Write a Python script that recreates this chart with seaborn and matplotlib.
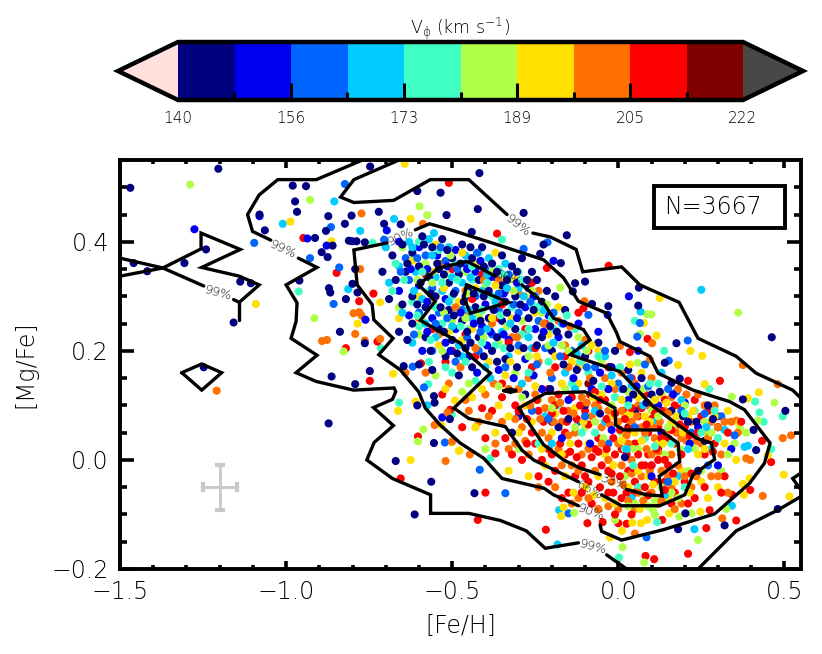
import numpy as np
import pandas as pd
import matplotlib
matplotlib.use('Agg')
import matplotlib.pyplot as plt
import seaborn as sns
from matplotlib.cm import ScalarMappable
from matplotlib.colors import BoundaryNorm, ListedColormap
from matplotlib.patches import Rectangle

# [Fe/H], [Mg/Fe] pairs, one list per velocity bin
navy = [(-1.469,.499),(-1.204,.534),(-1.241,.386),(-1.306,.361),(-1.459,.361),(-1.418,.346),(-1.138,.327),(-1.106,.324),
 (-1.158,.252),(-.98,.503),(-.94,.502),(-.747,.538),(-.605,.493),(-.535,.49),(-.973,.474),(-.967,.455),(-1.08,.45),
 (-1.064,.421),(-.873,.447),(-.803,.448),(-.823,.433),(-.721,.455),(-.88,.42),(-.705,.433),(-.655,.432),(-.517,.449),
 (-.913,.407),(-.86,.393),(-.893,.381),(-.875,.372),(-.811,.402),(-.801,.401),(-.788,.401),(-.763,.399),(-.96,.329),
 (-.792,.35),(-.871,.315),(-.867,.307),(-.8,.323),(-.785,.307),(-.82,.295),(-.838,.235),(-.763,.214),(-.863,.153),
 (-.792,.139),(-.748,.163),(-1.248,.17),(-.872,.067),(-.605,.1),(-.555,.031),(-.507,.075),(-.67,-.002),(-.563,-.04),
 (-.613,-.1),(-.555,.117),(-.553,.105),(-.646,.172),(-.418,.526),(-.423,.46),(-.285,.453),(-.441,.418),(-.155,.412),
 (-.225,.395),(-.235,.378),(-.173,.361),(-.13,.324),(-.1,.327),(-.137,.309),(-.079,.286),(-.03,.282),(.062,.316),
 (.06,.283),(.462,.225),(.175,.214),(.14,.178),(.185,.149),(.16,.141),(.375,.111),(.503,.09),(.407,.055),(.415,.018),
 (.48,-.09),(.32,-.12),(.202,-.098),(.18,-.127),(-.433,-.061),
 (-.68,.375),(-.65,.395),(-.62,.38),(-.59,.41),(-.56,.39),(-.53,.405),(-.5,.37),(-.47,.395),(-.44,.37),(-.41,.39),
 (-.38,.36),(-.35,.375),(-.32,.355),(-.29,.37),(-.26,.345),(-.71,.345),(-.67,.33),(-.64,.345),(-.6,.355),(-.57,.335),
 (-.54,.35),(-.51,.325),(-.48,.34),(-.45,.315),(-.42,.33),(-.39,.31),(-.35,.32),(-.31,.3),(-.27,.315),(-.23,.29),
 (-.19,.3),(-.16,.275),(-.69,.295),(-.65,.285),(-.62,.3),(-.58,.28),(-.55,.3),(-.51,.275),(-.47,.255),(-.43,.28),
 (-.39,.26),(-.35,.255),(-.31,.24),(-.27,.26),(-.23,.225),(-.66,.235),(-.62,.25),(-.58,.225),(-.54,.24),(-.5,.22),
 (-.46,.205),(-.42,.225),(-.38,.2),(-.34,.185),(-.6,.175),(-.56,.165),(-.52,.19),(-.48,.155),(-.44,.17),(-.2,.2),
 (-.15,.23),(-.1,.19),(-.06,.215),(-.01,.2),(.03,.165),(.07,.15),(.1,.12),(.16,.09),(.21,.07),(.26,.035),(.3,.06),
 (-.28,.12),(-.1,.1),(-.18,.06),(.05,.09),(-.32,.05),(.27,.1),
 (-.635,.36),(-.585,.395),(-.545,.36),(-.515,.385),(-.475,.36),(-.445,.39),(-.405,.355),(-.365,.345),(-.335,.33),
 (-.305,.345),(-.275,.33),(-.245,.33),(-.215,.31),(-.595,.325),(-.565,.305),(-.525,.34),(-.495,.305),(-.465,.29),
 (-.435,.305),(-.405,.3),(-.375,.275),(-.335,.27),(-.295,.285),(-.255,.275),(-.205,.245),(-.605,.285),(-.535,.28),
 (-.495,.265),(-.455,.235),(-.415,.255),(-.365,.225),(-.325,.205),(-.285,.205),(-.245,.21),(-.185,.235),(-.635,.22),
 (-.565,.2),(-.525,.235),(-.485,.195),(-.445,.215),(-.405,.19),(-.365,.18),(-.305,.17),(-.165,.175),(-.125,.165),
 (-.075,.145),(-.025,.17),(.015,.13),(.045,.12),(.085,.105),(.125,.125),(.195,.08),(.235,.07),(.285,.075),
 (-.205,.13),(-.15,.075),(-.055,.085),(.02,.005),(.24,-.02)]
blue = [(-1.276,.423),(-1.08,.447),(-.697,.421),(-.936,.406),(-.878,.393),(-.761,.257),(-.53,.078),(-.195,.365),(.032,.3),
 (-.032,.266),
 (-.66,.4),(-.6,.39),(-.545,.375),(-.49,.385),(-.43,.345),(-.37,.335),(-.66,.31),(-.6,.32),(-.52,.295),(-.46,.3),
 (-.4,.285),(-.34,.29),(-.28,.28),(-.21,.265),(-.63,.265),(-.56,.26),(-.49,.24),(-.41,.245),(-.33,.22),(-.25,.24),
 (-.18,.225),(-.59,.2),(-.52,.215),(-.45,.19),(-.36,.165),(-.28,.185),(-.12,.25),(-.06,.235),(-.02,.17),(.06,.2),
 (-.23,.13),(-.15,.11),(-.08,.13),(.03,.11),(.12,.1),(.2,.105),(-.3,.08),(.13,.05),(.24,.06),(.34,.02),
 (-.625,.35),(-.575,.35),(-.515,.355),(-.455,.35),(-.415,.365),(-.385,.335),(-.345,.305),(-.305,.325),(-.255,.3),
 (-.575,.29),(-.475,.27),(-.435,.25),(-.385,.235),(-.345,.23),(-.305,.26),(-.225,.235),(-.165,.25),(-.575,.235),
 (-.505,.2),(-.425,.16),(-.395,.21),(-.315,.15),(-.255,.155),(-.135,.15),(-.055,.16),(-.03,.13),(-.02,.055),(.055,.135),
 (.165,.12),(.215,.03),(-.085,.03),(.1,-.03),(.3,-.01),(-.17,.04)]
azure = [(-.823,.506),(-.865,.427),(-1.096,.398),(-.705,.404),(-.928,.37),(-.84,.353),(-.857,.286),(-.585,.133),(-.619,.171),
 (-.522,.032),(-.213,.399),(-.285,.387),(-.09,.266),(.065,.251),(.209,.219),(.057,.226),(.152,.182),(.175,.125),
 (-.34,-.061),(-.417,-.018),(-.15,-.098),(.085,-.142),
 (-.64,.37),(-.58,.375),(-.52,.365),(-.46,.36),(-.4,.35),(-.33,.34),(-.63,.33),(-.56,.315),(-.49,.31),(-.43,.3),
 (-.36,.275),(-.3,.27),(-.24,.255),(-.6,.27),(-.54,.27),(-.47,.275),(-.38,.23),(-.3,.21),(-.22,.205),(-.56,.2),
 (-.49,.18),(-.42,.2),(-.14,.2),(-.07,.17),(0.,.14),(.08,.175),(-.2,.15),(-.26,.09),(-.12,.07),(.15,.13),
 (.22,.05),(.31,.08),(.1,-.01),(.27,-.01),(-.03,.03),
 (-.655,.345),(-.605,.37),(-.535,.39),(-.485,.35),(-.425,.38),(-.36,.305),(-.315,.285),(-.265,.29),(-.195,.27),
 (-.615,.23),(-.55,.25),(-.515,.26),(-.455,.225),(-.415,.235),(-.34,.17),(-.245,.175),(-.175,.19),(-.095,.17),
 (-.04,.2),(.035,.15),(.09,.135),(.19,.09),(-.1,.08),(-.21,.075),(.05,.06),(.15,-.04),(.26,.085),(.35,.045)]
cyan = [(-.855,.474),(-1.01,.433),(-.675,.442),(-.777,.42),(-.555,.416),(-.813,.313),(-.575,.1),(.25,.312),(.067,.272),
 (.38,.024),(.39,.026),(.342,-.084),(.229,-.127),(-.183,-.155),(-.178,-.092),
 (-.7,.39),(-.66,.355),(-.63,.4),(-.57,.405),(-.51,.39),(-.46,.375),(-.39,.37),(-.34,.36),(-.69,.325),(-.61,.345),
 (-.55,.335),(-.47,.325),(-.41,.31),(-.37,.29),(-.3,.315),(-.25,.3),(-.65,.27),(-.59,.295),(-.53,.31),(-.44,.26),
 (-.35,.235),(-.26,.205),(-.17,.25),(-.11,.21),(-.62,.215),(-.55,.225),(-.48,.21),(-.4,.17),(-.33,.19),(-.04,.19),
 (.04,.135),(.11,.07),(.19,.11),(-.16,.16),(-.22,.08),(-.04,.07),(.18,-.03),(.28,.02),(.32,.055),(.04,-.07),
 (-.62,.39),(-.56,.375),(-.5,.335),(-.445,.335),(-.395,.34),(-.335,.315),(-.285,.3),(-.225,.275),(-.615,.31),
 (-.51,.29),(-.45,.275),(-.395,.24),(-.325,.25),(-.27,.225),(-.195,.215),(-.58,.25),(-.5,.245),(-.47,.19),(-.385,.15),
 (-.29,.14),(-.125,.195),(-.02,.155),(.01,.13),(.075,.1),(.13,.16),(-.13,.13),(-.07,.09),(.025,.02),(.21,.02),(.265,.06),
 (.14,-.065),(-.2,.03)]
teal = [(-.962,.309),(-.74,.398),(-.715,.205),(-.66,.105),(-.572,.139),(-.501,.083),(-.35,.404),(.05,.255),
 (.138,.2),(.274,.13),(.412,.107),(.495,.08),(.425,.087),(.438,.07),(.46,.02),(.117,-.114),(.002,-.179),(-.385,.003),
 (-.67,.36),(-.6,.4),(-.54,.385),(-.49,.36),(-.42,.38),(-.36,.35),(-.3,.345),(-.68,.31),(-.62,.29),(-.57,.31),
 (-.5,.3),(-.44,.33),(-.38,.3),(-.32,.28),(-.26,.285),(-.2,.26),(-.6,.245),(-.53,.25),(-.45,.24),(-.37,.21),
 (-.29,.23),(-.21,.18),(-.13,.24),(-.57,.18),(-.5,.16),(-.43,.145),(-.09,.16),(-.01,.115),(.07,.12),(.12,.14),
 (-.14,.14),(-.18,.1),(-.07,.05),(.02,.02),(.08,.04),(.16,.03),(.23,.09),(.3,.04),(.06,-.05),(-.24,.03),(.2,-.05),
 (-.645,.33),(-.59,.345),(-.53,.325),(-.485,.33),(-.44,.355),(-.395,.325),(-.345,.34),(-.29,.33),(-.245,.28),
 (-.605,.265),(-.55,.28),(-.475,.245),(-.41,.275),(-.355,.265),(-.27,.24),(-.195,.24),(-.155,.265),(-.565,.22),(-.52,.17),
 (-.46,.18),(-.41,.215),(-.345,.205),(-.27,.16),(-.115,.18),(-.06,.19),(.005,.17),(.03,.1),(.095,.14),(-.05,.135),
 (-.11,.05),(.045,-.01),(.11,.025),(.2,.085),(.25,.05),(.29,.09)]
lime = [(-1.289,.505),(-.928,.477),(-.598,.465),(-.575,.449),(-.915,.26),(-.827,.199),(-.603,.034),(-.587,.056),(-.175,.316),
 (.361,.27),(.087,.267),(.1,.267),(.065,.231),(.058,.178),(.342,.116),(.47,.105),(.42,.072),(.367,.058),(.325,-.09),
 (.22,-.098),(.183,-.104),(.105,-.092),(.11,-.101),(.24,-.147),(.078,-.188),(.013,-.16),(-.01,-.11),(-.4,.02),(-.133,-.097),
 (-.65,.39),(-.58,.36),(-.52,.34),(-.46,.345),(-.4,.32),(-.33,.33),(-.27,.33),(-.66,.28),(-.6,.23),(-.55,.28),
 (-.5,.255),(-.42,.265),(-.36,.215),(-.29,.255),(-.23,.27),(-.17,.21),(-.12,.225),(-.05,.18),(-.55,.155),(-.47,.125),
 (-.39,.15),(-.31,.16),(-.24,.11),(-.16,.13),(-.1,.06),(-.02,.1),(.01,.05),(.06,.02),(.1,.09),(.14,.01),(.17,.06),
 (.23,.02),(.26,.07),(.31,-.02),(.35,.03),(.13,-.05),(.08,-.07),(.02,-.03),(.21,-.02),(-.3,.02),
 (-.605,.33),(-.56,.325),(-.505,.375),(-.455,.305),(-.38,.345),(-.315,.31),(-.26,.31),(-.215,.285),(-.59,.255),(-.525,.27),
 (-.46,.26),(-.405,.225),(-.335,.245),(-.27,.19),(-.21,.21),(-.15,.2),(-.095,.2),(-.53,.2),(-.45,.14),(-.36,.135),
 (-.29,.115),(-.2,.095),(-.13,.06),(-.07,.07),(-.045,.04),(.03,.125),(.045,.02),(.075,.13),(.12,.08),(.15,.06),(.185,.02),
 (.2,.1),(.25,-.02),(.28,.05),(.33,.01),(.385,.05),(.16,-.06),(.11,-.075),(.05,-.08),(.18,-.07),(.03,-.085),(.09,-.085)]
yellow = [(-1.091,.286),(-.643,.543),(-.987,.437),(-.863,.401),(-.625,.442),(-.785,.25),(-.717,.289),(-.678,.158),
 (-.663,.09),(-.61,.107),(-.533,.064),(-.502,.032),(-.48,.017),(-.625,0.),(-.491,.109),(.125,.297),(.077,.251),(.115,.228),
 (.217,.2),(.253,.191),(.18,.174),(.26,.139),(.423,.124),(.39,.113),(.363,.068),(.498,-.027),(.45,.009),(.395,-.034),
 (.375,-.044),(.378,-.064),(.515,-.067),(.247,-.095),(.153,-.098),(.087,-.11),(-.025,-.142),(.011,-.13),(.042,-.115),
 (.068,-.116),(-.172,-.103),(-.165,-.087),(-.478,.017),
 (-.62,.365),(-.55,.395),(-.47,.38),(-.43,.36),(-.37,.38),(-.31,.33),(-.66,.26),(-.6,.3),(-.56,.345),(-.48,.29),
 (-.41,.275),(-.35,.31),(-.25,.27),(-.18,.28),(-.54,.21),(-.47,.22),(-.39,.18),(-.3,.2),(-.21,.23),(-.14,.18),
 (-.06,.2),(-.52,.13),(-.44,.115),(-.36,.1),(-.28,.1),(-.2,.05),(-.12,.14),(-.05,.12),(.02,.08),(.07,.16),(.13,.12),
 (.21,.08),(.27,.05),(.33,.09),(-.26,.07),(-.19,.085),(-.13,.095),(-.09,.03),(-.04,.01),(.01,.11),(.05,.05),(.08,.08),
 (.12,.03),(.16,.07),(.19,-.02),(.25,-.04),(.3,-.05),(-.22,-.01),(-.16,-.03),(-.1,-.05),(-.04,-.07),(.03,-.05),(.09,-.03),
 (.15,-.07),(.24,.01),(-.3,.05),(-.37,.05),(-.43,.06),
 (-.525,.315),(-.43,.315),(-.37,.32),(-.32,.26),(-.28,.3),(-.56,.29),(-.51,.235),(-.44,.24),(-.38,.26),(-.325,.18),
 (-.245,.19),(-.19,.19),(-.11,.175),(-.08,.21),(-.02,.14),(.035,.175),(-.34,.155),(-.41,.13),(-.25,.135),(-.17,.14),
 (-.075,.115),(-.015,.08),(.035,.085),(.06,.115),(.095,.07),(.11,.11),(.145,.105),(.175,.08),(.195,.05),(.225,.09),(.26,.02),
 (.29,.08),(.32,.03),(.355,.0),(-.33,.08),(-.23,.02),(-.17,.01),(-.145,.03),(-.105,.07),(-.06,-.03),(-.015,-.01),(.01,.035),
 (.06,-.02),(.07,.035),(.105,-.045),(.135,.03),(.17,-.04),(.215,-.06),(.27,-.07),(-.135,-.06),(-.075,-.065),(-.01,-.08),
 (.065,-.09),(-.27,-.03),(-.33,-.02)]
orange = [(-.773,.452),(-.588,.433),(-.777,.35),(-.797,.269),(-.78,.271),(-.773,.265),(-.792,.231),(-.892,.218),(-.877,.22),
 (-.763,.219),(-.717,.222),(-1.209,.127),(-.641,.16),(-.553,.064),(-.52,-.002),(-.514,.087),(-.102,.291),(.102,.214),
 (.005,.209),(.095,.184),(.375,.174),(.48,.139),(.355,.072),(.52,.045),(.495,.04),(.385,.003),(.397,0.),(.435,-.066),
 (.313,-.107),(.05,-.135),(-.447,.01),(-.5,.034),
 (-.53,.36),(-.46,.31),(-.36,.33),(-.3,.305),(-.24,.31),(-.18,.255),(-.6,.26),(-.54,.23),(-.45,.27),(-.38,.25),
 (-.32,.225),(-.24,.18),(-.16,.21),(-.1,.22),(-.04,.15),(-.58,.16),(-.51,.14),(-.45,.09),(-.4,.12),(-.33,.13),
 (-.27,.15),(-.2,.11),(-.12,.17),(-.07,.1),(.01,.16),(.06,.1),(.1,.15),(.14,.09),(.18,.13),(.24,.12),(.29,.1),(.36,.05),
 (-.42,.07),(-.35,.07),(-.29,.06),(-.25,.12),(-.22,.095),(-.17,.07),(-.15,.09),(-.13,.05),(-.11,.115),(-.08,.08),
 (-.05,.06),(-.03,.09),(0.,.07),(.03,.03),(.04,.07),(.07,.06),(.09,.1),(.11,.04),(.14,.05),(.16,.01),(.19,.04),(.22,.07),
 (.25,.03),(.28,.07),(.31,.01),(.34,.07),(-.33,.02),(-.27,.01),(-.23,.05),(-.18,.02),(-.14,-.01),(-.11,.01),(-.07,-.02),
 (-.02,-.04),(.01,-.01),(.04,0.),(.07,-.03),(.1,.01),(.13,-.02),(.16,-.05),(.22,-.05),(-.19,-.05),(-.12,-.07),(-.06,-.09),
 (0.,-.09),(.05,-.09),(.1,-.06),(.19,-.08),(.28,-.03),(.33,-.06),
 (-.49,.28),(-.405,.33),(-.305,.225),(-.225,.25),(-.145,.245),(-.475,.17),(-.43,.205),(-.375,.14),(-.3,.13),(-.205,.16),
 (-.15,.17),(-.085,.15),(-.01,.13),(.05,.14),(.115,.09),(.16,.115),(.205,.12),(.26,.1),(.32,.07),(-.46,.11),(-.39,.08),
 (-.31,.075),(-.265,.1),(-.235,.075),(-.195,.07),(-.175,.105),(-.135,.085),(-.095,.105),(-.06,.095),(-.025,.065),(.01,.09),
 (.025,.045),(.055,.08),(.08,.05),(.105,.06),(.125,.07),(.15,.085),(.175,.05),(.205,.035),(.235,.035),(.27,.04),(.3,.06),
 (-.37,.03),(-.31,.03),(-.28,.035),(-.21,.04),(-.17,-.01),(-.15,.045),(-.12,-.02),(-.09,.02),(-.05,.03),(-.03,.0),(0.,.03),
 (.015,-.045),(.04,-.025),(.06,-.06),(.085,.02),(.095,-.02),(.12,.015),(.15,-.03),(.18,-.01),(.2,-.03),(.235,-.03),(.3,-.03),
 (-.24,-.05),(-.14,-.08),(-.09,-.07),(-.03,-.085),(.03,-.075),(.075,-.075),(.13,-.075),(.17,-.09)]
red = [(-.51,.508),(-.948,.407),(-.848,.343),(-.78,.291),(-.737,.305),(-.725,.217),(-.82,.205),(-.748,.145),(-.603,.043),
 (-.655,-.034),(-.53,.12),(-.594,.177),(-.506,.092),(-.365,.415),(-.215,.352),(-.029,.356),(-.105,.278),(.088,.222),
 (.035,.198),(.306,.145),(.21,.145),(.433,.035),(.46,-.004),(.397,-.055),(.343,-.064),(.275,-.092),(.355,-.111),(.132,-.11),
 (.265,-.125),(.21,-.172),(.082,-.176),(.108,-.182),(0.,-.116),(.025,-.117),(-.047,-.114),(-.093,-.116),(-.218,-.128),
 (-.423,-.11),(-.4,-.06),(-.37,.012),
 (-.58,.34),(-.5,.35),(-.41,.34),(-.34,.31),(-.56,.24),(-.46,.23),(-.36,.26),(-.28,.24),(-.22,.25),(-.12,.27),
 (-.52,.18),(-.43,.19),(-.35,.14),(-.26,.17),(-.19,.17),(-.09,.2),(-.03,.13),(.04,.15),(.11,.11),(.17,.1),(.23,.11),
 (.3,.08),(.37,.07),(-.47,.06),(-.4,.04),(-.38,.09),(-.31,.1),(-.26,.05),(-.24,.09),(-.21,.13),(-.18,.12),(-.16,.05),
 (-.14,.115),(-.12,.03),(-.1,.09),(-.085,.12),(-.06,.04),(-.04,.11),(-.015,.04),(.015,.09),(.03,.055),(.05,.03),
 (.06,.08),(.09,.05),(.1,.075),(.12,.06),(.13,.09),(.15,.04),(.17,.03),(.2,.06),(.25,.08),(.26,.01),(.29,.03),
 (-.34,.04),(-.29,0.),(-.25,.03),(-.21,.02),(-.19,-.02),(-.16,.01),(-.13,-.03),(-.11,-.01),(-.09,-.04),(-.07,.02),
 (-.05,-.01),(-.03,-.02),(-.01,.01),(.01,.02),(.03,-.02),(.05,-.04),(.06,.01),(.08,-.01),(.09,.01),(.11,-.04),
 (.12,0.),(.14,-.04),(.15,-.01),(.17,-.06),(.2,-.04),(.23,-.07),(.26,-.05),(.32,-.03),(-.24,-.03),(-.15,-.06),
 (-.08,-.08),(-.03,-.06),(.01,-.07),(.05,-.06),(.08,-.05),(.12,-.08),(.16,-.08),(-.01,-.1),(.04,-.1),
 (-.44,.295),(-.35,.285),(-.26,.325),(-.5,.2),(-.33,.215),(-.25,.205),(-.16,.19),(-.03,.17),(.08,.12),(.14,.11),(.19,.095),
 (.27,.09),(.33,.05),(-.41,.095),(-.35,.115),(-.3,.09),(-.275,.075),(-.245,.11),(-.225,.07),(-.2,.085),(-.19,.1),(-.165,.09),
 (-.155,.07),(-.125,.075),(-.115,.1),(-.09,.065),(-.07,.125),(-.055,.11),(-.035,.075),(-.01,.085),(.005,.055),(.02,.075),
 (.04,.095),(.07,.095),(.085,.065),(.11,.085),(.13,.04),(.16,.055),(.185,.065),(.215,.045),(.24,.05),(.285,.015),(-.32,.01),
 (-.275,.03),(-.23,.0),(-.2,.01),(-.175,.03),(-.145,.015),(-.125,.005),(-.1,-.03),(-.08,.005),(-.06,.015),(-.035,.02),
 (-.02,-.025),(.005,-.03),(.025,.01),(.045,-.015),(.07,-.01),(.1,-.01),(.115,.02),(.14,.0),(.165,-.025),(.19,.01),(.22,-.025),
 (-.21,-.04),(-.17,-.07),(-.11,-.06),(-.055,-.05),(-.015,-.06),(.025,-.06),(.09,-.065),(.14,-.055),(.21,-.08),(.31,-.06)]
maroon = [(-.09,.14),(.03,.06),(-.2,.07),(.12,.02)]

band_points = [navy, blue, azure, cyan, teal, lime, yellow, orange, red, maroon]
band_vphi = [144.1, 152.3, 160.5, 168.7, 176.9, 185.1, 193.3, 201.5, 209.7, 217.9]
band_colors = ['#000080', '#0000f0', '#0064ff', '#00ccff', '#40ffc4',
               '#b0ff48', '#ffe000', '#ff7000', '#ff0000', '#800000']
vphi_edges = [140, 148.2, 156.4, 164.6, 172.8, 181, 189.2, 197.4, 205.6, 213.8, 222]
vphi_major = [140, 156.4, 172.8, 189.2, 205.6, 222]
vphi_labels = ['140', '156', '173', '189', '205', '222']

# contours, one (fe, mg) strand per unbroken piece, the gaps hold the labels
contour_strands = [
    ([-1.5, -1.371, -1.248], [.37, .352, .319]),
    ([-1.158, -1.141, -1.081, -1.141, -1.254, -1.138, -1.256, -1.256, -1.371, -1.5],
     [.294, .289, .321, .337, .353, .386, .416, .387, .352, .337]),
    ([-1.141, -1.141], [.289, .257]),
    ([-1.314, -1.254, -1.194, -1.254, -1.314], [.16, .176, .16, .128, .16]),
    ([-.77, -.909, -1.025, -1.081, -1.116, -1.101, -1.046], [.55, .514, .514, .486, .45, .419, .403]),
    ([-.963, -.907, -1., -.967, -.97, -.985, -.907, -.97, -.91, -.797, -.675, -.67, -.68, -.737, -.677, -.735, -.757,
      -.68, -.565, -.565, -.45, -.355, -.277, -.22, -.12],
     [.37, .353, .321, .288, .254, .223, .192, .16, .144, .128, .132, .125, .111, .096, .063, .032, 0.,
      -.034, -.064, -.098, -.098, -.111, -.13, -.162, -.152]),
    ([-.035, .025], [-.174, -.2]),
    ([.24, .355, .48, .55], [-.2, -.13, -.092, -.067]),
    ([.55, .525, .55], [-.024, -.034, -.055]),
    ([-.66, -.796, -.836, -.796, -.676, -.566, -.45, -.335], [.55, .514, .482, .472, .476, .514, .514, .45]),
    ([-.257, -.205, -.127, -.107, .01, .065, .183, .24, .355, .415, .525, .55],
     [.416, .409, .386, .345, .354, .321, .289, .223, .19, .159, .128, .113]),
    ([-.696, -.796, -.786, -.741, -.736, -.678, -.721, -.656, -.601, -.581, -.536, -.476, -.405, -.35, -.223, -.195, -.12],
     [.398, .385, .321, .285, .257, .223, .193, .165, .125, .095, .064, .031, .003, -.034, -.052, -.064, -.084]),
    ([-.055, -.05, .01, .135, .29, .395, .44, .457, .38, .335, .225, .12, .095, .005, -.005, -.035, -.12, -.165,
      -.225, -.365, -.505, -.568, -.611],
     [-.119, -.131, -.147, -.128, -.099, -.043, -.006, .031, .092, .107, .128, .159, .19, .217, .233, .269, .291, .334,
      .367, .395, .422, .433, .422]),
    ([-.37, -.455, -.541, -.601, -.551, -.596, -.475, -.445, -.385, -.495, -.45, -.34, -.29, -.255, -.12],
     [.337, .364, .352, .321, .291, .256, .214, .19, .159, .095, .076, .061, .018, 0., -.04]),
    ([-.05, .01, .125, .2, .225, .29, .28, .235, .105, .005, -.145, -.085, -.105, -.195, -.225, -.29],
     [-.064, -.084, -.084, -.064, -.027, .001, .031, .04, .098, .162, .193, .22, .239, .26, .288, .321]),
    ([.025, .085, .132, .123, .185, .18, .125, .015, -.008, -.01, -.1, -.22, -.3, -.225, -.165, -.115, -.055],
     [-.054, -.064, -.066, -.03, -.003, .031, .055, .055, .064, .095, .125, .122, .095, .028, 0., -.015, -.027]),
    ([-.457, -.33, -.445, -.465, -.457], [.321, .289, .269, .297, .321]),
    ([-.345, -.325, -.305, -.325, -.345], [.127, .13, .127, .124, .127]),
]

label_fe = [-1.008, -1.203, -.3, -.077, -.656, -.083, -.333, -.085, -.015]
label_mg = [.386, .306, .43, -.16, .409, -.095, .333, -.056, -.04]
label_txt = ['99%', '99%', '99%', '99%', '90%', '90%', '66%', '66%', '33%']
label_rot = [-25, -15, -38, -15, 25, -20, -20, -28, -20]

sns.set_style('ticks')
plt.rcParams['font.family'] = ['DejaVu Sans']
plt.rcParams['font.weight'] = 200
plt.rcParams['axes.labelweight'] = 200
plt.rcParams['mathtext.fontset'] = 'custom'
plt.rcParams['mathtext.rm'] = 'DejaVu Sans:weight=200'
plt.rcParams['mathtext.it'] = 'DejaVu Sans:weight=200'
plt.rcParams['axes.edgecolor'] = 'k'
plt.rcParams['xtick.color'] = 'k'
plt.rcParams['ytick.color'] = 'k'
plt.rcParams['axes.axisbelow'] = False
text_color = 'k'

# all bins are mixed in order of position in their lists, so no colour sits on top
rows = []
for pts, v in zip(band_points, band_vphi):
    for i, (fe, mg) in enumerate(pts):
        rows.append((fe, mg, v, i / len(pts)))
data = pd.DataFrame(rows, columns=['fe', 'mg', 'vphi', 'turn']).sort_values('turn', kind='stable')

cmap = ListedColormap(band_colors)
cmap.set_under('#ffe0dc')
cmap.set_over('#484848')
norm = BoundaryNorm(vphi_edges, cmap.N)

fig = plt.figure(figsize=(8.22, 6.54), dpi=100)
ax = fig.add_axes([120 / 822, 1 - 569 / 654, 681 / 822, 409 / 654])
cax = fig.add_axes([118 / 822, 1 - 100 / 654, 685 / 822, 58 / 654])

sns.scatterplot(data=data, x='fe', y='mg', hue='vphi', palette=cmap, hue_norm=norm, legend=False,
                s=34, linewidth=0, ax=ax, zorder=2)

for fe_line, mg_line in contour_strands:
    ax.plot(fe_line, mg_line, color='k', lw=2.4, solid_joinstyle='miter', zorder=3)

for x, y, t, r in zip(label_fe, label_mg, label_txt, label_rot):
    ax.text(x, y, t, rotation=r, rotation_mode='anchor', ha='center', va='center',
            fontsize=9, color='#111111', zorder=4)

ax.errorbar([-1.198], [-.05], xerr=[.051], yerr=[.041], color='#c8c8c8', elinewidth=2,
            capsize=3.5, capthick=3, zorder=3)

ax.set_xlim(-1.5, .55)
ax.set_ylim(-.2, .55)
ax.set_xticks([-1.5, -1, -.5, 0, .5])
ax.set_xticklabels(['\u22121.5', '\u22121.0', '\u22120.5', '0.0', '0.5'])
ax.set_yticks([-.2, 0, .2, .4])
ax.set_yticklabels(['\u22120.2', '0.0', '0.2', '0.4'])
ax.set_xticks(np.arange(-1.5, .55, .1), minor=True)
ax.set_yticks(np.arange(-.2, .55, .05), minor=True)
ax.tick_params(axis='x', which='major', direction='in', top=True, length=6, width=2.6,
               labelsize=17, labelcolor=text_color, pad=8)
ax.tick_params(axis='x', which='minor', direction='in', top=True, length=3, width=2.6)
ax.tick_params(axis='y', which='major', direction='in', right=True, length=10, width=2.6,
               labelsize=17, labelcolor=text_color, pad=8)
ax.tick_params(axis='y', which='minor', direction='in', right=True, length=5, width=2.6)
for side in ax.spines.values():
    side.set_linewidth(2.8)
ax.set_xlabel('[Fe/H]', fontsize=17, color=text_color, labelpad=7)
ax.set_ylabel('[Mg/Fe]', fontsize=17, color=text_color, labelpad=10)

ax.add_patch(Rectangle((534 / 681, 341 / 409), 131 / 681, 42 / 409, transform=ax.transAxes,
                       fc='white', ec='k', lw=2.8, zorder=6))
ax.text(544 / 681, 362 / 409, 'N=3667', transform=ax.transAxes, ha='left', va='center', fontsize=17,
        color=text_color, zorder=7)

cb = fig.colorbar(ScalarMappable(norm=norm, cmap=cmap), cax=cax, orientation='horizontal', extend='both',
                  extendfrac=60 / 565, spacing='proportional')
cb.outline.set_linewidth(3.2)
cb.outline.set_edgecolor('k')
cb.set_ticks(vphi_major, labels=vphi_labels)
cb.set_ticks([v for v in vphi_edges if v not in vphi_major], minor=True)
cax.tick_params(axis='x', which='major', direction='in', length=0, labelsize=11,
                labelcolor=text_color, pad=8)
cax.tick_params(axis='x', which='minor', length=0)

# the bar's own tick marks do not show above its colours, so an empty axes on top carries them
tick_ax = fig.add_axes([178 / 822, 1 - 100 / 654, 565 / 822, 58 / 654], zorder=5)
tick_ax.set_xlim(140, 222)
tick_ax.set_ylim(0, 1)
tick_ax.axis('off')
for v in vphi_edges[1:-1]:
    tick_ax.plot([v, v], [0, .3 if v in vphi_major else .14], color='k', lw=2.2, solid_capstyle='butt')
fig.text(460 / 822, 1 - 29 / 654, 'V$_{\\phi}$ (km s$^{-1}$)', ha='center', va='center', fontsize=12.5, color=text_color)

fig.savefig('out.png', dpi=100)
